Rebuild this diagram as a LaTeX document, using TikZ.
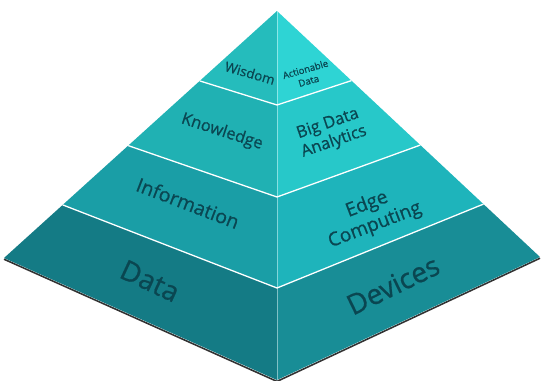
\documentclass[tikz,border=0pt]{standalone}
\usepackage{fontspec}
\setmainfont{Open Sans}
\newfontfamily\lblfont{Open Sans}[FakeBold=0.7]
\usetikzlibrary{calc}
\definecolor{wl}{HTML}{25BCBC}
\definecolor{wr}{HTML}{2ED4D4}
\definecolor{kl}{HTML}{20B1B3}
\definecolor{kr}{HTML}{27C8C9}
\definecolor{il}{HTML}{1A9EA6}
\definecolor{ir}{HTML}{1EB4BB}
\definecolor{dl}{HTML}{147B85}
\definecolor{dr}{HTML}{188D96}
\definecolor{txt}{HTML}{0A4651}
\tikzset{
  sep/.style={draw=white, line width=1.3pt},
  lbl/.style={text=txt, align=center, inner sep=0pt, font=\lblfont#1},
  lbl/.default=\normalsize
}
\begin{document}
\begin{tikzpicture}[x=1pt,y=-1pt]
\useasboundingbox (0,0) rectangle (542,381);
\coordinate (A) at (277,11);
\coordinate (BL) at (4,258);
\coordinate (BC) at (277,380);
\coordinate (BR) at (540,257);
\coordinate (WL) at ($(A)!0.283!(BL)$);
\coordinate (WR) at ($(A)!0.283!(BR)$);
\coordinate (WC) at (277,105);
\coordinate (KL) at ($(A)!0.545!(BL)$);
\coordinate (KR) at ($(A)!0.545!(BR)$);
\coordinate (KC) at (277,197);
\coordinate (IL) at ($(A)!0.785!(BL)$);
\coordinate (IR) at ($(A)!0.785!(BR)$);
\coordinate (IC) at (277,288);
% shadow
\draw[black!80, line width=1.6pt, line join=round] ([yshift=-1.2pt]BL) -- ([yshift=-1.4pt]BC) -- ([yshift=-1.2pt]BR);
% faces
\fill[wl] (A) -- (WL) -- (WC) -- cycle;
\fill[wr] (A) -- (WR) -- (WC) -- cycle;
\fill[kl] (WL) -- (KL) -- (KC) -- (WC) -- cycle;
\fill[kr] (WR) -- (KR) -- (KC) -- (WC) -- cycle;
\fill[il] (KL) -- (IL) -- (IC) -- (KC) -- cycle;
\fill[ir] (KR) -- (IR) -- (IC) -- (KC) -- cycle;
\fill[dl] (IL) -- (BL) -- (BC) -- (IC) -- cycle;
\fill[dr] (IR) -- (BR) -- (BC) -- (IC) -- cycle;
% edges
\draw[white, opacity=0.45, line width=0.8pt] (A) -- (BC);
\draw[sep] (WL) -- (WC) -- (WR);
\draw[sep] (KL) -- (KC) -- (KR);
\draw[sep] (IL) -- (IC) -- (IR);
% labels
\node[lbl=\fontsize{13.5}{14}\selectfont, rotate=-16] (wis) at (250,73) {Wisdom};
\node[lbl=\fontsize{9.5}{12}\selectfont, rotate=16] (act) at (307,75) {Actionable\\Data};
\node[lbl=\fontsize{16.5}{18}\selectfont, rotate=-18] (kno) at (222,132) {Knowledge};
\node[lbl=\fontsize{16.5}{19}\selectfont, rotate=19] (big) at (331,133) {Big Data\\Analytics};
\node[lbl=\fontsize{19.5}{21}\selectfont, rotate=-21] (inf) at (188,203) {Information};
\node[lbl=\fontsize{19}{22}\selectfont, rotate=21] (edg) at (371,215) {Edge\\Computing};
\node[lbl=\fontsize{28}{30}\selectfont, rotate=-25] (dat) at (150,281) {Data};
\node[lbl=\fontsize{28}{30}\selectfont, rotate=26] (dev) at (393,285) {Devices};
\end{tikzpicture}
\end{document}
